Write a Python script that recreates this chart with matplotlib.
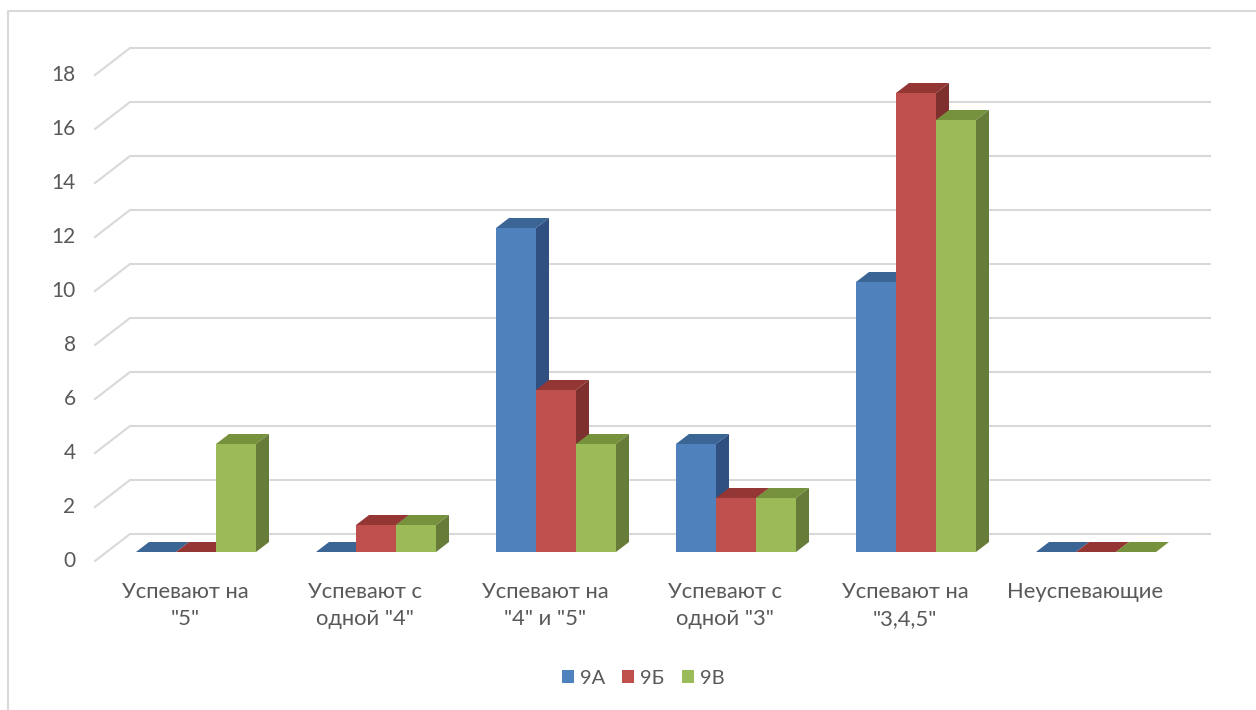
from __future__ import annotations

import matplotlib.pyplot as plt
import matplotlib.transforms as mtransforms
from matplotlib.lines import Line2D
from matplotlib.patches import Patch
import numpy as np

plt.rcParams["font.family"] = ["Lato", "Open Sans", "DejaVu Sans"]

W, H = 1256, 710

categories = ['Успевают на\n"5"', 'Успевают с\nодной "4"', 'Успевают на\n"4" и "5"', 'Успевают с\nодной "3"', 'Успевают на\n"3,4,5"', "Неуспевающие"]
series_names = ["9А", "9Б", "9В"]
values_a = [0, 0, 12, 4, 10, 0]
values_b = [0, 1, 6, 2, 17, 0]
values_c = [4, 1, 4, 2, 16, 0]
y_ticks = [0, 2, 4, 6, 8, 10, 12, 14, 16, 18]

front_colors = ["#4F81BD", "#C0504D", "#9BBB59"]
top_colors = ["#3A6595", "#943634", "#76923C"]
side_colors = ["#2F5080", "#7E302E", "#677C38"]
GRID = "#D9D9D9"
TEXT = "#595959"

# pixel layout: one category = 180 px, one y unit = 27 px
PX_X = 180.0
PX_Y = 27.0
bar_w = 40 / PX_X
depth_x = 13 / PX_X
depth_y = 10 / PX_Y
wall_x = 35 / PX_X

fig = plt.figure(figsize=(W / 100, H / 100), dpi=100)
ax = fig.add_axes([95 / W, (H - 561) / H, (1210 - 95) / W, (561 - 47) / H])
ax.set_xlim((95 - 196) / PX_X, (1210 - 196) / PX_X)
ax.set_ylim(-9 / PX_Y, (552 - 47) / PX_Y)
for s in ax.spines.values():
	s.set_visible(False)

# back wall gridlines + the slanted bit on the left side
x_left = ax.get_xlim()[0]
x_right = ax.get_xlim()[1]
for v in y_ticks:
	back = v + 2 / 3
	ax.plot([x_left, x_left + wall_x, x_right], [v - 1 / 3, back, back], color=GRID, lw=1.5, zorder=1, clip_on=False, solid_joinstyle="round")

# 3D bars, painted left to right so the next bar covers the side of the previous
xpos = np.arange(len(categories))
for j, vals in enumerate([values_a, values_b, values_c]):
	for i, v in enumerate(vals):
		x0 = xpos[i] + (j - 1.5) * bar_w
		x1 = x0 + bar_w
		z = 2 + i * 3 + j
		ax.fill([x0, x1, x1 + depth_x, x0 + depth_x], [v, v, v + depth_y, v + depth_y], color=top_colors[j], lw=0, zorder=z, clip_on=False)
		if v > 0:
			ax.fill([x1, x1 + depth_x, x1 + depth_x, x1], [0, depth_y, v + depth_y, v], color=side_colors[j], lw=0, zorder=z, clip_on=False)
			ax.fill([x0, x1, x1, x0], [0, 0, v, v], color=front_colors[j], lw=0, zorder=z, clip_on=False)

ax.set_yticks(y_ticks)
ax.set_yticklabels([str(v) for v in y_ticks])
ax.set_xticks(xpos - 11 / PX_X)
ax.set_xticklabels(categories, linespacing=1.45)
ax.tick_params(axis="y", length=0, pad=14, labelsize=15, labelcolor=TEXT)
ax.tick_params(axis="x", length=0, pad=15, labelsize=15.8, labelcolor=TEXT)

# tick labels sit a little below the bar front plane
shift = mtransforms.ScaledTranslation(0, -7 / 100, fig.dpi_scale_trans)
for lab in ax.get_yticklabels():
	lab.set_transform(lab.get_transform() + shift)

handles = [Patch(color=c, lw=0) for c in front_colors]
fig.legend(
	handles, series_names, loc="center", bbox_to_anchor=(643 / W, (H - 678) / H), ncol=3, frameon=False,
	fontsize=14.5, labelcolor=TEXT, handlelength=0.6, handleheight=0.6, handletextpad=0.3, columnspacing=0.85,
)

# chart area border, cut by the screenshot on the right and bottom
fig.add_artist(Line2D([8 / W, 8 / W, 1], [0, (H - 11) / H, (H - 11) / H], color=GRID, lw=1.5))

fig.savefig("out.png", dpi=100)
plt.close(fig)
